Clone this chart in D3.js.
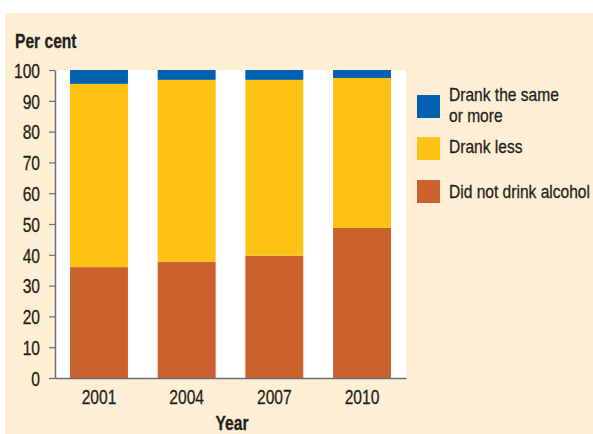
<!DOCTYPE html>
<html><head><meta charset="utf-8">
<script src="https://cdn.jsdelivr.net/npm/d3@7"></script>
<style>
html,body{margin:0;padding:0;background:#fff;}
svg text{font-family:"Liberation Sans",Arial,sans-serif;fill:#231f20;stroke:#231f20;stroke-width:0.3px;}
</style></head>
<body>
<svg id="c" width="593" height="434"></svg>
<script>
const years = ["2001","2004","2007","2010"];
const didNotDrink = [36.0, 37.8, 39.7, 48.7];
const drankLess = [59.5, 59.0, 57.1, 48.7];
const drankSameOrMore = [4.5, 3.2, 3.2, 2.6];
const seriesNames = ["Did not drink alcohol","Drank less","Drank the same or more"];
const seriesColors = ["#cb622e","#fec312","#0062b0"];
const yTicks = [0,10,20,30,40,50,60,70,80,90,100];

const SX = 0.78; // horizontal condensing of text
const FS = 20;
const svg = d3.select("#c");
svg.append("rect").attr("x",5).attr("y",13).attr("width",588).attr("height",421).attr("fill","#feefd4");

const m = {left:55, right:406, top:70, bottom:378};
svg.append("rect").attr("x",m.left).attr("y",m.top).attr("width",m.right-m.left).attr("height",m.bottom-m.top).attr("fill","#fff");

const x = d3.scaleBand().domain(years).range([m.left,m.right]).paddingInner(0.339).paddingOuter(0.171);
const y = d3.scaleLinear().domain([0,100]).range([m.bottom,m.top]);

const rows = years.map((yr,i)=>({year:yr, "Did not drink alcohol":didNotDrink[i], "Drank less":drankLess[i], "Drank the same or more":drankSameOrMore[i]}));
const stack = d3.stack().keys(seriesNames)(rows);

svg.append("g").selectAll("g").data(stack).join("g").attr("fill",(d,i)=>seriesColors[i])
  .selectAll("rect").data(d=>d).join("rect")
  .attr("x",d=>x(d.data.year)).attr("width",x.bandwidth())
  .attr("y",d=>y(Math.min(100,d[1]))).attr("height",d=>y(d[0])-y(Math.min(100,d[1])));

// y axis
const ya = svg.append("g").attr("transform",`translate(${m.left},0)`)
  .call(d3.axisLeft(y).tickValues(yTicks).tickSize(6).tickPadding(15).tickSizeOuter(0));
ya.select(".domain").attr("stroke","#6d6e71").attr("stroke-width",1.5);
ya.selectAll(".tick line").attr("stroke","#6d6e71").attr("stroke-width",1.2);
ya.selectAll(".tick text").style("font-size",FS+"px").attr("dy","0.36em")
  .attr("x",-15/SX).attr("transform",`scale(${SX},1)`);

// x axis
const xa = svg.append("g").attr("transform",`translate(0,${m.bottom})`)
  .call(d3.axisBottom(x).tickSize(0).tickPadding(12).tickSizeOuter(0));
xa.select(".domain").attr("stroke","#6d6e71").attr("stroke-width",1.5);
xa.selectAll(".tick text").style("font-size",FS+"px").attr("dy","0.71em").attr("transform",`scale(${SX},1)`);

function label(px,py,lines,opts={}){
  const fs = opts.fs||FS, sx = opts.sx||SX, lh = opts.lh||20;
  const t = svg.append("text").attr("transform",`translate(${px},${py}) scale(${sx},1)`)
    .style("font-size",fs+"px");
  if(opts.bold) t.style("font-weight","bold");
  if(opts.anchor) t.attr("text-anchor",opts.anchor);
  [].concat(lines).forEach((s,k)=>t.append("tspan").attr("x",0).attr("dy",k?lh:0).text(s));
  return t;
}
label(15,48,"Per cent",{bold:true});
label(232,430,"Year",{bold:true,anchor:"middle"});

// legend
const legend = [
  {i:2, y:95, lines:["Drank the same","or more"], base:101},
  {i:1, y:137, lines:["Drank less"], base:153},
  {i:0, y:180, lines:["Did not drink alcohol"], base:198}
];
legend.forEach(l=>{
  svg.append("rect").attr("x",417).attr("y",l.y).attr("width",23).attr("height",23).attr("fill",seriesColors[l.i]);
  label(449,l.base,l.lines,{fs:18,sx:0.865,lh:21});
});
</script>
</body></html>
